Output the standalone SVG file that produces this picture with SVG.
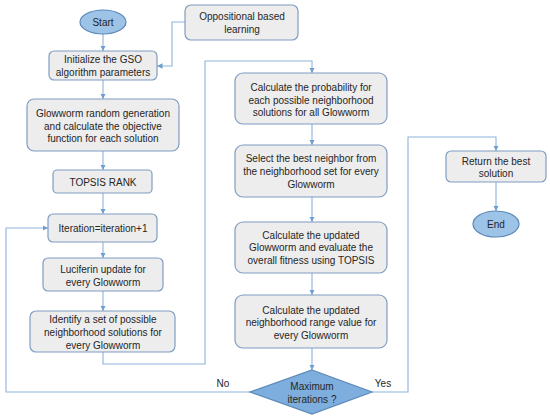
<svg xmlns="http://www.w3.org/2000/svg" width="550" height="418" viewBox="0 0 550 418">
<defs>
<style>
.box{fill:#ededed;stroke:#7f9dc2;stroke-width:1.2}
.term{fill:#9dc3e6;stroke:#5b88b8;stroke-width:1.2}
.dec{fill:#7eaedd;stroke:#5b88b8;stroke-width:1.2}
.con{fill:none;stroke:#8db3dc;stroke-width:1.1}
text{font-family:"Liberation Sans",Arial,sans-serif;font-size:10px;fill:#262626;text-anchor:middle;dominant-baseline:central}
</style>
<marker id="ar" viewBox="0 0 6 6" refX="6" refY="3" markerWidth="5" markerHeight="5" orient="auto">
<path d="M0,0 L6,3 L0,6 z" fill="#6f9fd0"/>
</marker>
</defs>
<rect width="550" height="418" fill="#fff"/>
<g id="connectors">
<path class="con" d="M103,34 V51" marker-end="url(#ar)"/>
<path class="con" d="M185,22 H172 V66 H157" marker-end="url(#ar)"/>
<path class="con" d="M103,80 V99" marker-end="url(#ar)"/>
<path class="con" d="M103,151 V170" marker-end="url(#ar)"/>
<path class="con" d="M103,193 V214" marker-end="url(#ar)"/>
<path class="con" d="M103,242 V258" marker-end="url(#ar)"/>
<path class="con" d="M103,291 V311" marker-end="url(#ar)"/>
<path class="con" d="M103,352 V364 H205 V61 H312 V73" marker-end="url(#ar)"/>
<path class="con" d="M312,124 V145" marker-end="url(#ar)"/>
<path class="con" d="M312,197 V222" marker-end="url(#ar)"/>
<path class="con" d="M312,273 V295" marker-end="url(#ar)"/>
<path class="con" d="M312,348 V370" marker-end="url(#ar)"/>
<path class="con" d="M250,392 H6 V228 H48" marker-end="url(#ar)"/>
<path class="con" d="M372,392 H408 V137 H496 V151" marker-end="url(#ar)"/>
<path class="con" d="M496,182 V211" marker-end="url(#ar)"/>
<text x="223" y="383">No</text>
<text x="383" y="383">Yes</text>
</g>
<g id="start"><ellipse class="term" cx="103" cy="22" rx="23" ry="12"/><text x="103" y="22">Start</text></g>
<g id="obl"><rect class="box" x="185" y="5" width="113" height="35" rx="6"/><text x="242" y="16">Oppositional based</text><text x="242" y="29">learning</text></g>
<g id="init"><rect class="box" x="49" y="51" width="108" height="29" rx="5"/><text x="103" y="59">Initialize the GSO</text><text x="103" y="72">algorithm parameters</text></g>
<g id="gen"><rect class="box" x="27" y="99" width="152" height="52" rx="7"/><text x="103" y="113">Glowworm random generation</text><text x="103" y="126">and calculate the objective</text><text x="103" y="138">function for each solution</text></g>
<g id="topsis"><rect class="box" x="53" y="170" width="99" height="23" rx="4"/><text x="103" y="182">TOPSIS RANK</text></g>
<g id="iter"><rect class="box" x="48" y="214" width="109" height="28" rx="5"/><text x="103" y="228">Iteration=iteration+1</text></g>
<g id="luc"><rect class="box" x="43" y="258" width="120" height="33" rx="5"/><text x="103" y="269">Luciferin update for</text><text x="103" y="282">every Glowworm</text></g>
<g id="ident"><rect class="box" x="30" y="311" width="145" height="41" rx="6"/><text x="103" y="319">Identify a set of possible</text><text x="103" y="332">neighborhood solutions for</text><text x="103" y="345">every Glowworm</text></g>
<g id="prob"><rect class="box" x="235" y="73" width="152" height="51" rx="8"/><text x="311" y="87">Calculate the probability for</text><text x="311" y="100">each possible neighborhood</text><text x="311" y="112">solutions for all Glowworm</text></g>
<g id="select"><rect class="box" x="235" y="145" width="152" height="52" rx="8"/><text x="311" y="158">Select the best neighbor from</text><text x="311" y="171">the neighborhood set for every</text><text x="311" y="184">Glowworm</text></g>
<g id="upd"><rect class="box" x="235" y="222" width="152" height="51" rx="8"/><text x="311" y="235">Calculate the updated</text><text x="311" y="247">Glowworm and evaluate the</text><text x="311" y="260">overall fitness using TOPSIS</text></g>
<g id="range"><rect class="box" x="235" y="295" width="152" height="53" rx="8"/><text x="311" y="310">Calculate the updated</text><text x="311" y="322">neighborhood range value for</text><text x="311" y="335">every Glowworm</text></g>
<g id="max"><polygon class="dec" points="312,370 372,392 312,414 250,392"/><text x="312" y="386">Maximum</text><text x="312" y="399">iterations ?</text></g>
<g id="ret"><rect class="box" x="446" y="151" width="100" height="31" rx="5"/><text x="496" y="161">Return the best</text><text x="496" y="173">solution</text></g>
<g id="end"><ellipse class="term" cx="496" cy="224" rx="23" ry="13"/><text x="496" y="224">End</text></g>
</svg>
